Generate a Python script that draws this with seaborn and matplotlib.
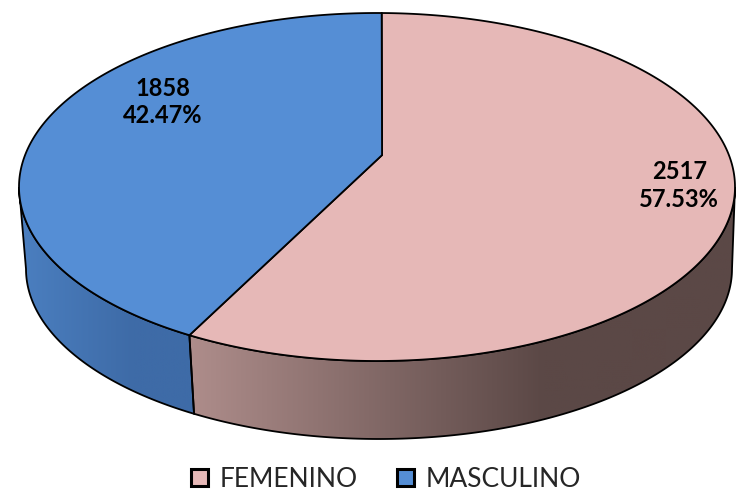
import numpy as np
import matplotlib
matplotlib.use("Agg")
import matplotlib.pyplot as plt
import seaborn as sns
from matplotlib.patches import Polygon, Patch
from matplotlib.colors import to_rgb

# data
categories = ['FEMENINO', 'MASCULINO']
counts = [2517, 1858]
percent_labels = ['57.53%', '42.47%']

top_colors = ['#E6B8B7', '#558ED5']
side_colors = [('#AE8D8B', '#5B4846'), ('#4B7FC0', '#3E6BA7')]
# where the labels sit, in unit-disc coordinates
label_pos = [(0.844, 0.01), (-0.598, 0.489)]

sns.set_theme(style='white')
plt.rcParams['font.family'] = ['Lato', 'DejaVu Sans']

# tilted disc geometry, in pixels
W, H = 736, 494
cx, cy, a, b = 377, 187, 358, 174        # top face
cxb, cyb, ab, bb = 379, 269, 353, 170    # bottom face
k = 0.184                                 # perspective shift of the centre
alpha = np.radians(4.4)                   # direction of that shift
u = np.array([np.sin(alpha), np.cos(alpha)])


def persp(x, y):
    x, y = np.asarray(x, float), np.asarray(y, float)
    par = x * u[0] + y * u[1]
    px, py = x - par * u[0], y - par * u[1]
    d = 1 + k * par
    s = np.sqrt(1 - k * k)
    return ((par + k) * u[0] + s * px) / d, ((par + k) * u[1] + s * py) / d


def top_pt(X, Y):
    return cx + a * np.asarray(X), cy - b * np.asarray(Y)


def bot_pt(X, Y):
    return cxb + ab * np.asarray(X), cyb - bb * np.asarray(Y)


def rim_phi(theta_deg):
    X, Y = persp(np.cos(np.radians(theta_deg)), np.sin(np.radians(theta_deg)))
    return float(np.degrees(np.arctan2(Y, X)))


fig = plt.figure(figsize=(W / 100, H / 100), dpi=100)
ax = fig.add_axes([0, 0, 1, 1])
ax.set_xlim(0, W)
ax.set_ylim(H, 0)
ax.axis('off')

fracs = np.array(counts) / np.sum(counts)
starts = 90 - 360 * np.concatenate([[0], np.cumsum(fracs)[:-1]])
ends = starts - 360 * fracs

# sides (front half only), with horizontal shading
for i, (t0, t1) in enumerate(zip(starts, ends)):
    hi = rim_phi(t0)
    lo = rim_phi(t1)
    while lo >= hi:          # slices run clockwise
        lo -= 360
    for shift in (-360, 0, 360):
        s, e = max(lo, -180 + shift), min(hi, shift)
        if e <= s:
            continue
        phi = np.radians(np.linspace(s, e, 200))
        tx, ty = top_pt(np.cos(phi), np.sin(phi))
        bx, by = bot_pt(np.cos(phi), np.sin(phi))
        xs = np.concatenate([tx, bx[::-1]])
        ys = np.concatenate([ty, by[::-1]])
        poly = Polygon(np.column_stack([xs, ys]), closed=True,
                       facecolor='none', edgecolor='black', lw=1.3, zorder=3)
        ax.add_patch(poly)
        c0, c1 = np.array(to_rgb(side_colors[i][0])), np.array(to_rgb(side_colors[i][1]))
        w = np.clip(np.linspace(0, 1, 256) / 0.65, 0, 1)[:, None]
        grad = (c0 * (1 - w) + c1 * w)[None, :, :].repeat(2, axis=0)
        im = ax.imshow(grad, extent=(xs.min(), xs.max(), ys.max(), ys.min()),
                       aspect='auto', zorder=2, interpolation='bilinear')
        im.set_clip_path(poly)

# top face wedges
vx, vy = top_pt(*persp(0.0, 0.0))
for i, (t0, t1) in enumerate(zip(starts, ends)):
    th = np.radians(np.linspace(t0, t1, 300))
    X, Y = persp(np.cos(th), np.sin(th))
    tx, ty = top_pt(X, Y)
    xs = np.concatenate([[vx], tx])
    ys = np.concatenate([[vy], ty])
    ax.add_patch(Polygon(np.column_stack([xs, ys]), closed=True,
                         facecolor=top_colors[i], edgecolor='black',
                         lw=1.3, joinstyle='miter', zorder=4))

# data labels
for i, (lx, ly) in enumerate(label_pos):
    px, py = top_pt(lx, ly)
    ax.text(px, py, f'{counts[i]}\n{percent_labels[i]}', ha='center', va='center',
            fontsize=17, fontweight='bold', color='black', linespacing=1.25, zorder=6)

handles = [Patch(facecolor=top_colors[i], edgecolor='black', lw=2.2, label=categories[i])
           for i in range(len(categories))]
ax.legend(handles=handles, loc='center', bbox_to_anchor=(386 / W, 1 - 479 / H),
          bbox_transform=fig.transFigure, ncol=2, frameon=False, fontsize=19,
          handlelength=0.62, handleheight=0.62, handletextpad=0.45,
          columnspacing=1.5, borderpad=0)

fig.savefig('out.png', dpi=100)
